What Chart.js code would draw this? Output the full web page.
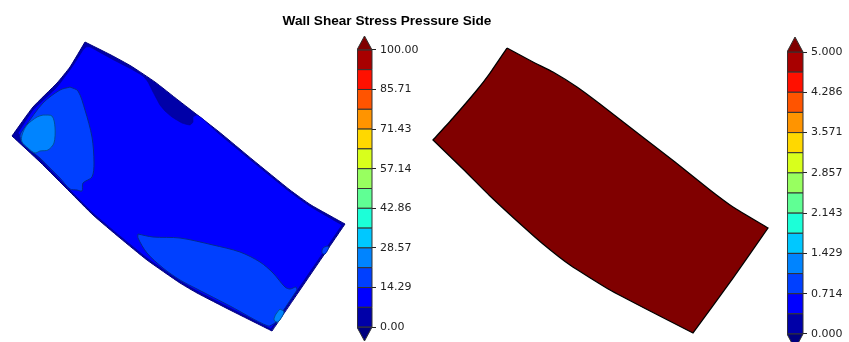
<!DOCTYPE html>
<html>
<head>
<meta charset="utf-8">
<style>
body { margin: 0; background: #fff; overflow: hidden; }
canvas { position: absolute; }
</style>
<script src="https://cdn.jsdelivr.net/npm/chart.js@4/dist/chart.umd.js"></script>
</head>
<body>
<canvas id="fields" width="774" height="342" style="left:0px;top:0px"></canvas>
<canvas id="barLeft" width="70" height="305" style="left:357px;top:36px"></canvas>
<canvas id="barRight" width="62" height="312" style="left:787px;top:37px"></canvas>
<script>
// outlines, [x, y] in image units
// corners are listed twice so the curve stays sharp there
var bladeEdge = [[85,42],[85,42],[111,55],[131,66],[155,82],[178,100],[218,131],[253,160],[290,190],[311,205],[345,224],[345,224],[272,331],[272,331],[230,310],[197,293],[180,283],[147,260],[120,238],[93,215],[70,192],[40,162],[12,136],[12,136],[33,107],[57,83],[70,67],[85,42],[85,42]];
var bladeInner = [[83,50],[86,47],[90,47],[110,58],[133,70],[143,76],[148,82],[153,92],[160,105],[165,111],[172,117],[182,123],[190,125],[193,122],[193,117],[197,115],[203,119],[218,133],[253,162],[290,192],[311,207],[342,225],[342,225],[271,329],[271,329],[230,308],[197,291],[180,281],[147,258],[120,236],[93,213],[70,190],[40,159],[18,133],[18,133],[33,110],[57,87],[72,67],[83,50]];
var washLeft = [[70,87],[78,91],[85,110],[92,137],[94,163],[92,177],[83,183],[82,191],[77,190],[70,189],[60,178],[50,168],[40,158],[30,150],[22,142],[20,135],[25,127],[43,103],[60,90],[70,87]];
var coreLeft = [[43,115],[52,116],[55,127],[54,143],[48,150],[40,151],[35,153],[28,148],[22,142],[22,135],[27,125],[37,117],[43,115]];
var washLower = [[138,234],[153,237],[180,238],[213,245],[240,252],[260,262],[273,273],[285,287],[290,289],[296,287],[297,290],[297,290],[275,323],[275,323],[268,326],[230,306],[197,289],[180,280],[163,268],[147,253],[138,238],[138,234]];
var spotLower = [[280,309],[284,312],[278,322],[274,320],[276,314],[280,309]];
var spotRight = [[327,246],[329,247],[325,254],[322,253],[323,248],[327,246]];
var bladeClipped = [[507,48],[507,48],[533,62],[553,72],[577,87],[600,104],[640,135],[675,162],[710,190],[733,207],[768,228],[768,228],[733,278],[693,333],[693,333],[650,311],[610,290],[570,265],[543,244],[517,221],[490,196],[463,169],[433,140],[433,140],[453,118],[477,90],[490,73],[507,48],[507,48]];

var levelsLeft = [0,7.14,14.29,21.43,28.57,35.71,42.86,50,57.14,64.29,71.43,78.57,85.71,92.86,100];
var ticksLeft = [0,14.29,28.57,42.86,57.14,71.43,85.71,100];
var labelsLeft = ['0.00','14.29','28.57','42.86','57.14','71.43','85.71','100.00'];
var levelsRight = [0,0.357,0.714,1.071,1.429,1.786,2.143,2.5,2.857,3.214,3.571,3.929,4.286,4.643,5];
var ticksRight = [0,0.714,1.429,2.143,2.857,3.571,4.286,5];
var labelsRight = ['0.000','0.714','1.429','2.143','2.857','3.571','4.286','5.000'];
var bandColors = ['#0000a8','#0000ff','#0040ff','#0084ff','#00c8ff','#1cffd8','#60ff94','#98ff60','#d8ff1c','#ffd800','#ff9400','#ff5400','#ff1000','#a80000'];

function shape(points, fillColor, lineColor, lineWidth, tension, layer) {
    return {
        data: points.map(function (p) { return { x: p[0], y: p[1] }; }),
        showLine: true,
        fill: 'shape',
        backgroundColor: fillColor,
        borderColor: lineColor,
        borderWidth: lineWidth,
        tension: tension,
        pointRadius: 0,
        order: layer,
        clip: false
    };
}

new Chart(document.getElementById('fields'), {
    type: 'scatter',
    data: {
        datasets: [
            shape(bladeEdge, '#0000a8', '#00007c', 1, 0.15, 9),
            shape(bladeInner, '#0000ff', '#00008c', 0.5, 0.15, 8),
            shape(washLeft, '#0040ff', '#002a90', 1, 0.3, 7),
            shape(coreLeft, '#0084ff', '#00509c', 1, 0.3, 6),
            shape(washLower, '#0040ff', '#002a90', 1, 0.3, 5),
            shape(spotLower, '#0084ff', '#00509c', 1, 0.3, 4),
            shape(spotRight, '#0040ff', '#002a90', 1, 0.3, 3),
            shape(bladeClipped, '#800000', '#000', 1.3, 0.15, 2)
        ]
    },
    options: {
        responsive: false,
        animation: false,
        layout: { padding: 0 },
        scales: {
            x: { type: 'linear', display: false, min: 0, max: 774 },
            y: { type: 'linear', display: false, min: 36, max: 342, reverse: true }
        },
        plugins: {
            legend: { display: false },
            tooltip: { enabled: false },
            title: {
                display: true,
                text: 'Wall Shear Stress Pressure Side',
                color: '#000',
                font: { family: '"Liberation Sans"', size: 13.6, weight: 'bold', lineHeight: 1.2 },
                padding: { top: 13.5, bottom: 6.2 }
            }
        }
    }
});

function colorbar(id, levels, ticks, labels, overshoot, axisWidth) {
    var top = levels[levels.length - 1];
    var sets = bandColors.map(function (c, i) {
        return shape([[0, levels[i]], [1, levels[i]], [1, levels[i + 1]], [0, levels[i + 1]], [0, levels[i]]], c, '#333', 1, 0, 2);
    });
    sets.push(shape([[0, 0], [1, 0], [0.5, -overshoot], [0, 0]], '#00007f', '#333', 1, 0, 1));
    sets.push(shape([[0, top], [1, top], [0.5, top + overshoot], [0, top]], '#800000', '#333', 1, 0, 1));

    new Chart(document.getElementById(id), {
        type: 'scatter',
        data: { datasets: sets },
        options: {
            responsive: false,
            animation: false,
            layout: { padding: 0 },
            scales: {
                x: { type: 'linear', display: false, min: 0, max: 1 },
                y: {
                    type: 'linear',
                    position: 'right',
                    min: -overshoot,
                    max: top + overshoot,
                    border: { display: false },
                    grid: { drawOnChartArea: false, tickLength: 4, color: '#222', tickWidth: 1 },
                    afterBuildTicks: function (scale) {
                        scale.ticks = ticks.map(function (v) { return { value: v }; });
                    },
                    afterFit: function (scale) {
                        scale.width = axisWidth;
                        scale.paddingTop = 0;
                        scale.paddingBottom = 0;
                    },
                    ticks: {
                        autoSkip: false,
                        maxRotation: 0,
                        padding: 4,
                        color: '#222',
                        font: { family: '"DejaVu Sans"', size: 11 },
                        callback: function (v, i) { return labels[i]; }
                    }
                }
            },
            plugins: { legend: { display: false }, tooltip: { enabled: false } }
        }
    });
}

colorbar('barLeft', levelsLeft, ticksLeft, labelsLeft, 5, 55);
colorbar('barRight', levelsRight, ticksRight, labelsRight, 0.266, 46);
</script>
</body>
</html>
